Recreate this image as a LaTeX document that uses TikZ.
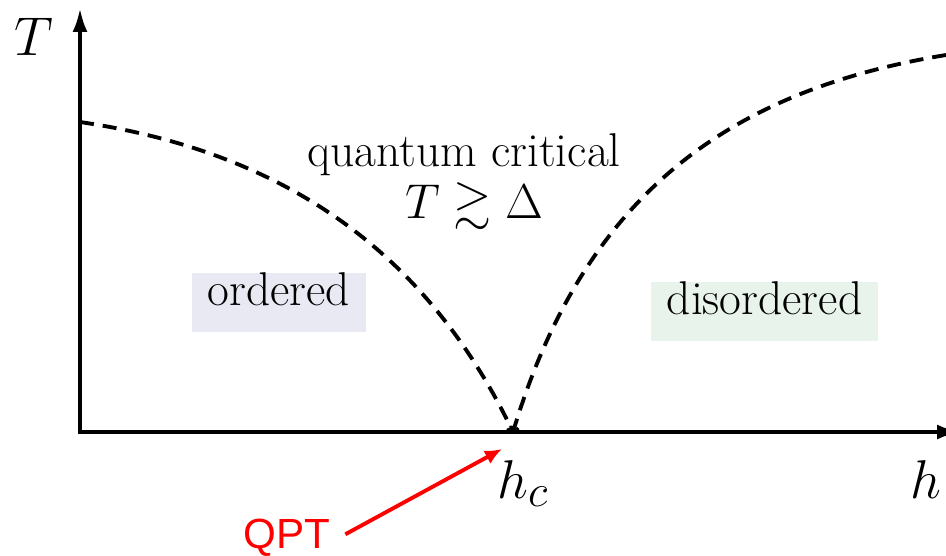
\documentclass[tikz,border=0pt]{standalone}
\usepackage{amsmath, amssymb}
\usepackage{graphicx}
\usepackage{fontspec}
\newfontfamily\qptfont{Liberation Sans}
\usetikzlibrary{arrows.meta}
\definecolor{orderfill}{RGB}{233,233,243}
\definecolor{disorderfill}{RGB}{232,243,235}
\newcommand{\biglbl}[1]{\scalebox{1.25}{$#1$}}

\begin{document}
\begin{tikzpicture}[
  x=0.02cm, y=-0.02cm,
  axis/.style={line width=2.3pt, -{Latex[length=0.48cm, width=0.3cm]}},
  crossover/.style={line width=2.2pt, dash pattern=on 0.28cm off 0.18cm,
                    -{To[length=0.12cm, width=0.22cm]}},
  region/.style={rectangle, inner xsep=0.32cm, minimum height=1.18cm,
                 text height=0.694em, text depth=0.3em, font=\fontsize{27}{32}\selectfont},
  txt/.style={inner sep=0pt, anchor=base, font=\fontsize{27}{32}\selectfont},
  lbl/.style={inner sep=0pt, font=\fontsize{24.88}{30}\selectfont},
  qptarrow/.style={red, line width=2.2pt, -{Latex[length=0.34cm, width=0.3cm]}}
]
\useasboundingbox (0,0) rectangle (946,555);

% axes
\coordinate (ybot) at (80,434);
\coordinate (ytop) at (80,8);
\coordinate (xleft) at (78,432);
\coordinate (xright) at (961,432);
\draw[axis] (ybot) -- (ytop);
\draw[axis] (xleft) -- (xright);

\node[lbl, anchor=base] (tlabel) at (34,55) {\biglbl{T}};
\node[lbl, anchor=base west] (hlabel) at (910,498) {\biglbl{h}};
\node[lbl, anchor=base west] (hclabel) at (497,498) {\biglbl{h_c}};

% crossover lines into the critical point
\coordinate (qcp) at (513,432);
\coordinate (ordstart) at (80,122);
\coordinate (disstart) at (946,55);
\draw[crossover] (ordstart) .. controls (270,150) and (420,240) .. (qcp);
\draw[crossover] (disstart) .. controls (732,90) and (586,192) .. (qcp);

% regions
\node[txt] (qc) at (464,166) {quantum critical};
\node[lbl, anchor=base] (gap) at (474,218) {\scalebox{1.12}{$T\gtrsim\Delta$}};
\node[region, fill=orderfill] (ordered) at (279,302.5) {ordered};
\node[region, fill=disorderfill] (disordered) at (764.5,311) {disordered};

% QPT pointer
\node[inner sep=0pt, anchor=base west, text=red, font=\qptfont\fontsize{24}{28}\selectfont] (qpt) at (243,548) {QPT};
\coordinate (qtip) at (502,449);
\draw[qptarrow] ([shift={(15,-3)}]qpt.east) -- (qtip);
\end{tikzpicture}
\end{document}
